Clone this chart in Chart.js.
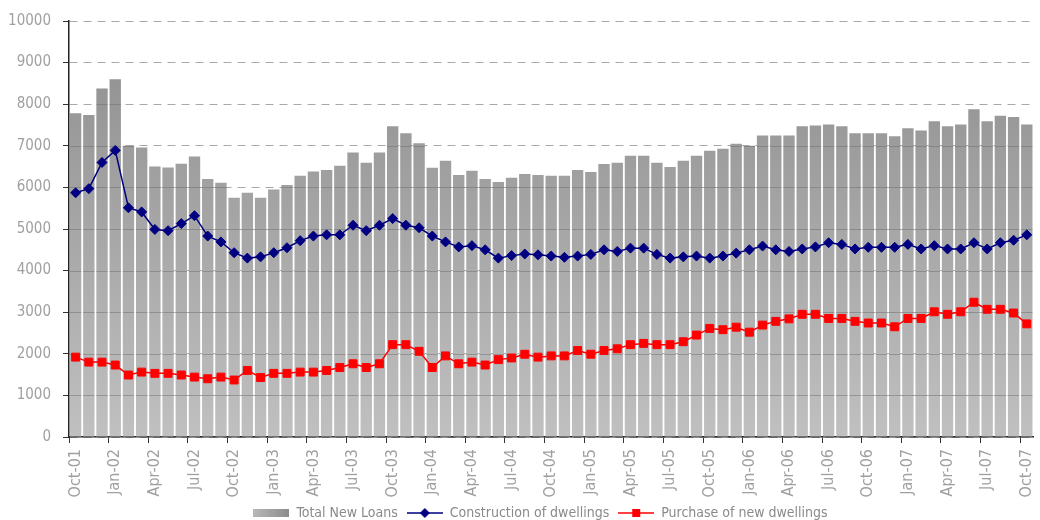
<!DOCTYPE html>
<html>
<head>
<meta charset="utf-8">
<script src="https://cdn.jsdelivr.net/npm/chart.js@4.4.1/dist/chart.umd.min.js"></script>
<style>
  html, body { margin: 0; padding: 0; background: #fff; overflow: hidden; }
  #wrap { width: 1040px; height: 530px; position: relative; }
</style>
</head>
<body>
<div id="wrap"><canvas id="loansChart"></canvas></div>
<script>
const months = [
  "Oct-01", "Nov-01", "Dec-01",
  "Jan-02", "Feb-02", "Mar-02", "Apr-02", "May-02", "Jun-02", "Jul-02", "Aug-02", "Sep-02", "Oct-02", "Nov-02", "Dec-02",
  "Jan-03", "Feb-03", "Mar-03", "Apr-03", "May-03", "Jun-03", "Jul-03", "Aug-03", "Sep-03", "Oct-03", "Nov-03", "Dec-03",
  "Jan-04", "Feb-04", "Mar-04", "Apr-04", "May-04", "Jun-04", "Jul-04", "Aug-04", "Sep-04", "Oct-04", "Nov-04", "Dec-04",
  "Jan-05", "Feb-05", "Mar-05", "Apr-05", "May-05", "Jun-05", "Jul-05", "Aug-05", "Sep-05", "Oct-05", "Nov-05", "Dec-05",
  "Jan-06", "Feb-06", "Mar-06", "Apr-06", "May-06", "Jun-06", "Jul-06", "Aug-06", "Sep-06", "Oct-06", "Nov-06", "Dec-06",
  "Jan-07", "Feb-07", "Mar-07", "Apr-07", "May-07", "Jun-07", "Jul-07", "Aug-07", "Sep-07", "Oct-07"
];

const totalNewLoans = [
  7780, 7740, 8380, 8600, 7000, 6960, 6500, 6480, 6570, 6740,
  6200, 6110, 5750, 5870, 5750, 5950, 6060, 6280, 6380, 6420,
  6520, 6840, 6590, 6840, 7470, 7300, 7060, 6470, 6640, 6300,
  6400, 6200, 6130, 6230, 6320, 6300, 6280, 6280, 6420, 6370,
  6560, 6590, 6760, 6760, 6590, 6490, 6640, 6760, 6880, 6930,
  7050, 7000, 7250, 7250, 7250, 7470, 7490, 7510, 7470, 7300,
  7300, 7300, 7230, 7420, 7370, 7590, 7470, 7510, 7880, 7590,
  7720, 7690, 7510
];

const construction = [
  5870, 5970, 6600, 6890, 5510, 5410, 4990, 4960, 5130, 5320,
  4830, 4690, 4430, 4300, 4330, 4430, 4550, 4720, 4830, 4860,
  4860, 5090, 4960, 5090, 5250, 5090, 5030, 4830, 4690, 4570,
  4600, 4500, 4300, 4360, 4400, 4380, 4350, 4320, 4350, 4390,
  4500, 4460, 4540, 4540, 4390, 4300, 4330, 4350, 4300, 4350,
  4420, 4500, 4590, 4500, 4460, 4520, 4570, 4670, 4630, 4520,
  4560, 4560, 4560, 4630, 4520, 4600, 4520, 4520, 4670, 4520,
  4670, 4730, 4860
];

const purchase = [
  1920, 1800, 1800, 1730, 1490, 1560, 1530, 1530, 1490, 1440,
  1400, 1440, 1370, 1600, 1430, 1530, 1530, 1560, 1560, 1600,
  1670, 1760, 1670, 1760, 2220, 2220, 2060, 1670, 1950, 1760,
  1800, 1730, 1860, 1900, 1990, 1920, 1950, 1950, 2080, 1990,
  2080, 2120, 2220, 2250, 2220, 2220, 2290, 2450, 2610, 2580,
  2640, 2520, 2690, 2780, 2840, 2950, 2950, 2850, 2850, 2780,
  2740, 2740, 2650, 2850, 2850, 3010, 2950, 3010, 3240, 3070,
  3070, 2980, 2720
];

const fontFamily = '"Liberation Sans Narrow", "Arial Narrow", "DejaVu Sans Condensed", sans-serif';
const textGray = "#a0a0a0";

// little legend pictures (line with marker / shaded box)
function legendImage(kind) {
  const c = document.createElement("canvas");
  c.width = 36;
  c.height = 12;
  const g = c.getContext("2d");
  if (kind === "bar") {
    const grad = g.createLinearGradient(0, 0, 36, 0);
    grad.addColorStop(0, "#b8b8b8");
    grad.addColorStop(1, "#8c8c8c");
    g.fillStyle = grad;
    g.fillRect(0, 2, 36, 8);
    return c;
  }
  const col = kind === "diamond" ? "#000080" : "#ff0000";
  g.strokeStyle = col;
  g.fillStyle = col;
  g.lineWidth = 1.5;
  g.beginPath();
  g.moveTo(0, 6);
  g.lineTo(36, 6);
  g.stroke();
  g.beginPath();
  if (kind === "diamond") {
    g.moveTo(18, 1); g.lineTo(23, 6); g.lineTo(18, 11); g.lineTo(13, 6);
  } else {
    g.rect(14, 2, 8, 8);
  }
  g.closePath();
  g.fill();
  return c;
}

const legendPics = [legendImage("bar"), legendImage("diamond"), legendImage("square")];

// faint grid segments painted over the bars
const barGridPlugin = {
  id: "barGrid",
  afterDatasetDraw(chart, args) {
    if (args.meta.type !== "bar") return;
    const ctx = chart.ctx;
    const y = chart.scales.y;
    ctx.save();
    ctx.strokeStyle = "rgba(110,110,110,0.5)";
    ctx.lineWidth = 1;
    ctx.beginPath();
    args.meta.data.forEach((bar) => {
      const p = bar.getProps(["x", "y", "width", "base"], true);
      y.ticks.forEach((t) => {
        if (t.value === 0) return;
        const py = Math.round(y.getPixelForValue(t.value)) + 0.5;
        if (py > p.y && py < p.base) {
          ctx.moveTo(p.x - p.width / 2, py);
          ctx.lineTo(p.x + p.width / 2, py);
        }
      });
    });
    ctx.stroke();
    ctx.restore();
  },
};

// nudge the legend a little to the right, as in the original
const legendShift = {
  id: "legendShift",
  afterLayout(chart) {
    if (chart.legend) {
      chart.legend.left += 23;
      chart.legend.right += 23;
    }
  },
};

const ctx = document.getElementById("loansChart").getContext("2d");

new Chart(ctx, {
  type: "bar",
  data: {
    labels: months,
    datasets: [
      {
        label: "Total New Loans",
        data: totalNewLoans,
        order: 3,
        backgroundColor: (c) => {
          const area = c.chart.chartArea;
          if (!area) return "#a6a6a6";
          const grad = c.chart.ctx.createLinearGradient(0, area.top, 0, area.bottom);
          grad.addColorStop(0, "#8d8d8d");
          grad.addColorStop(1, "#c0c0c0");
          return grad;
        },
        borderWidth: 0,
        barPercentage: 0.86,
        categoryPercentage: 1.0,
      },
      {
        type: "line",
        label: "Construction of dwellings",
        data: construction,
        order: 2,
        borderColor: "#000080",
        backgroundColor: "#000080",
        borderWidth: 1.5,
        pointStyle: "rectRot",
        pointRadius: 5,
        pointBorderWidth: 1,
        tension: 0,
      },
      {
        type: "line",
        label: "Purchase of new dwellings",
        data: purchase,
        order: 1,
        borderColor: "#ff0000",
        backgroundColor: "#ff0000",
        borderWidth: 1.5,
        pointStyle: "rect",
        pointRadius: 5.6,
        pointBorderWidth: 1,
        tension: 0,
      },
    ],
  },
  options: {
    responsive: true,
    maintainAspectRatio: false,
    animation: false,
    layout: { padding: { top: 12, right: 5, left: 0, bottom: 0 } },
    plugins: {
      tooltip: { enabled: false },
      legend: {
        position: "bottom",
        labels: {
          font: { family: fontFamily, size: 14 },
          color: "#8a8a8a",
          usePointStyle: true,
          pointStyleWidth: 36,
          padding: 9,
          generateLabels: (chart) =>
            chart.data.datasets.map((ds, i) => ({
              text: ds.label,
              pointStyle: legendPics[i],
              fillStyle: "transparent",
              strokeStyle: "transparent",
              lineWidth: 0,
              datasetIndex: i,
              fontColor: "#8a8a8a",
            })),
        },
      },
    },
    scales: {
      x: {
        offset: true,
        grid: {
          offset: true,
          drawOnChartArea: false,
          drawTicks: true,
          tickLength: 6,
          color: (c) => (c.index % 3 === 0 ? "#333333" : "rgba(0,0,0,0)"),
        },
        border: { display: true, color: "#222222", width: 1.5 },
        ticks: {
          autoSkip: false,
          maxRotation: 90,
          minRotation: 90,
          padding: 6,
          color: textGray,
          font: { family: fontFamily, size: 16 },
          callback: (v, i) => (i % 3 === 0 ? months[i] : ""),
        },
        afterFit: (scale) => {
          scale.height = 60;
          scale.paddingLeft = 0;
          scale.paddingRight = 0;
        },
      },
      y: {
        min: 0,
        max: 10000,
        ticks: {
          stepSize: 1000,
          padding: 12,
          color: textGray,
          font: { family: fontFamily, size: 15 },
          callback: (v) => String(v),
        },
        grid: {
          color: "#a8a8a8",
          lineWidth: 1,
          tickLength: 6,
          tickColor: "#333333",
          tickBorderDash: [],
        },
        border: { display: true, color: "#222222", width: 1.5, dash: [8, 6] },
        afterFit: (scale) => { scale.width = 69; },
      },
    },
  },
  plugins: [barGridPlugin, legendShift],
});
</script>
</body>
</html>
